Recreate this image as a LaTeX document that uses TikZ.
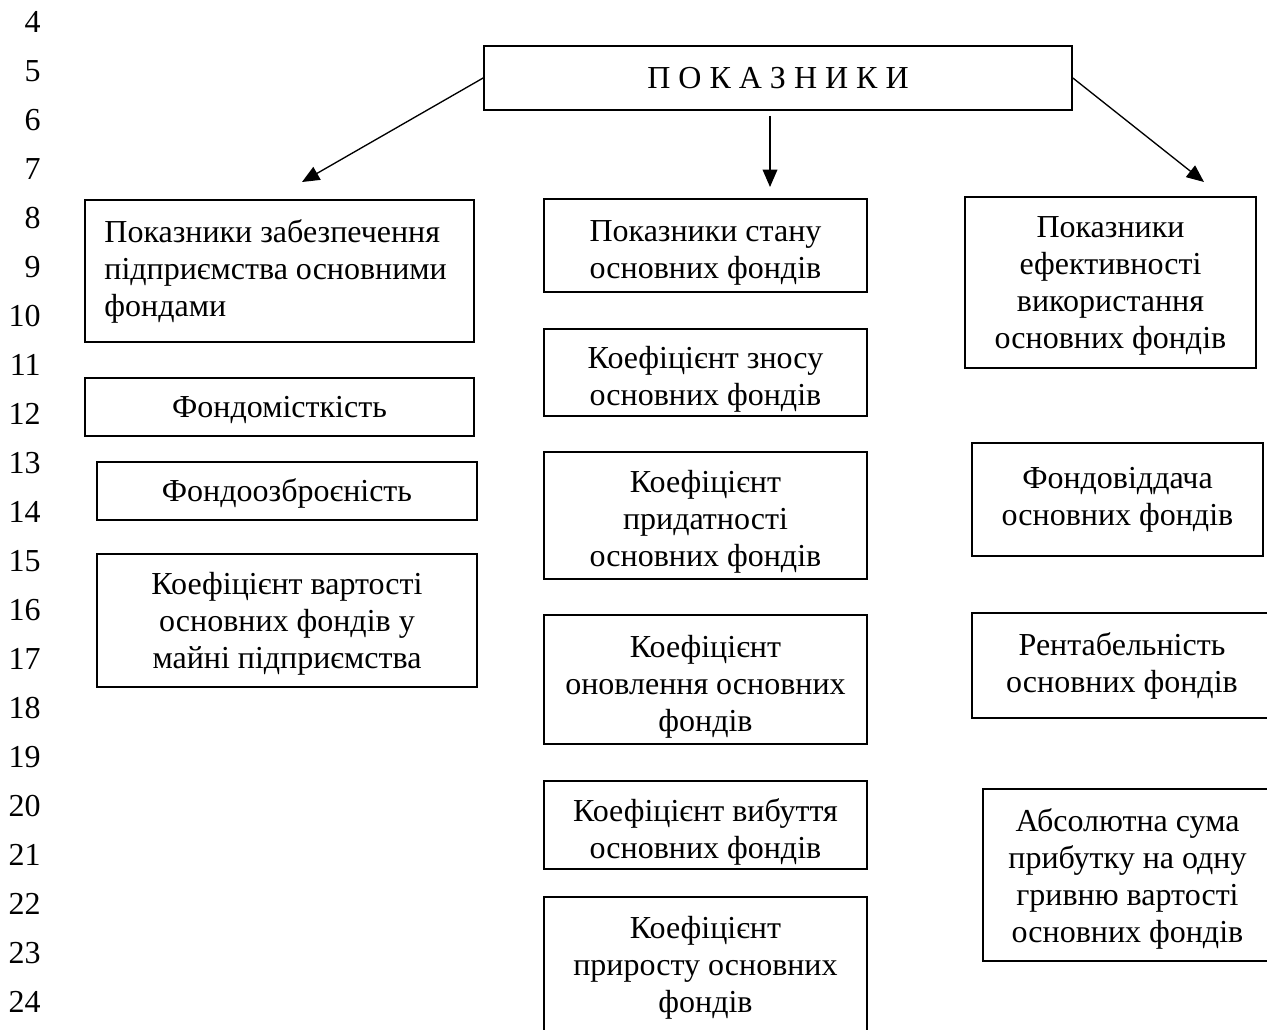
\documentclass[tikz,border=0pt]{standalone}
\usepackage{fontspec}
\setmainfont{Liberation Serif}
\usetikzlibrary{arrows.meta}
\begin{document}
\begin{tikzpicture}[x=0.75pt,y=-0.75pt,
  every node/.style={font=\fontsize{24pt}{27.75pt}\selectfont},
  box/.style={draw, line width=1.3pt, inner sep=0pt},
  txt/.style={inner sep=0pt, align=center},
  sz/.style 2 args={minimum width=#1*0.75pt, minimum height=#2*0.75pt},
  num/.style={anchor=east, inner sep=0pt},
  arr/.style={line width=1pt, -{Triangle[length=13pt,width=11pt]}}]
\useasboundingbox (0,0) rectangle (1267,1030);

% line numbers
\foreach \n in {4,...,24}
  \node[num] (n\n) at (41,{22+(\n-4)*49}) {\n};

% top
\node[box, sz={588}{64}] (top) at (778,78) {П О К А З Н И К И};

% left column
\node[box, sz={389}{142}] (l1) at (279.5,271) {};
\node[txt, align=left, anchor=west] (l1t) at ([xshift=15pt]l1.west) {Показники забезпечення\\підприємства основними\\фондами};
\node[box, sz={389}{58}] (l2) at (279.5,407) {};
\node[txt] (l2t) at ([yshift=-2pt]l2.center) {Фондомісткість};
\node[box, sz={380}{58}] (l3) at (287,491) {};
\node[txt] (l3t) at ([yshift=-1.5pt]l3.center) {Фондоозброєність};
\node[box, sz={380}{133}] (l4) at (287,620.5) {};
\node[txt] (l4t) at ([yshift=-2.25pt]l4.center) {Коефіцієнт вартості\\основних фондів у\\майні підприємства};

% middle column
\node[box, sz={323}{93}] (m1) at (705.5,245.5) {};
\node[txt] (m1t) at ([yshift=-5.5pt]m1.center) {Показники стану\\основних фондів};
\node[box, sz={323}{87}] (m2) at (705.5,372.5) {};
\node[txt] (m2t) at ([yshift=-5pt]m2.center) {Коефіцієнт зносу\\основних фондів};
\node[box, sz={323}{127}] (m3) at (705.5,515.5) {};
\node[txt] (m3t) at ([yshift=-5pt]m3.center) {Коефіцієнт\\придатності\\основних фондів};
\node[box, sz={323}{129}] (m4) at (705.5,679.5) {};
\node[txt] (m4t) at ([yshift=-5.5pt]m4.center) {Коефіцієнт\\оновлення основних\\фондів};
\node[box, sz={323}{88}] (m5) at (705.5,825) {};
\node[txt] (m5t) at ([yshift=-5.5pt]m5.center) {Коефіцієнт вибуття\\основних фондів};
\node[box, sz={323}{139}] (m6) at (705.5,966.5) {};
\node[txt] (m6t) at ([yshift=-1pt]m6.center) {Коефіцієнт\\приросту основних\\фондів};

% right column
\node[box, sz={291}{171}] (r1) at (1110.5,282.5) {};
\node[txt] (r1t) at ([yshift=-2.5pt]r1.center) {Показники\\ефективності\\використання\\основних фондів};
\node[box, sz={291}{113}] (r2) at (1117.5,499.5) {};
\node[txt] (r2t) at (r2.center) {Фондовіддача\\основних фондів};
\node[box, sz={300}{105}] (r3) at (1122,665.5) {};
\node[txt] (r3t) at ([yshift=-0.5pt]r3.center) {Рентабельність\\основних фондів};
\node[box, sz={289}{172}] (r4) at (1127.5,875) {};
\node[txt] (r4t) at ([yshift=-3pt]r4.center) {Абсолютна сума\\прибутку на одну\\гривню вартості\\основних фондів};

% arrows
\coordinate (tl) at (302,182);
\coordinate (tm) at (770,187);
\coordinate (tr) at (1204,182);
\draw[arr] (top.west) -- (tl);
\draw[arr] ([yshift=-3.75pt]top.south -| tm) -- (tm);
\draw[arr] (top.east) -- (tr);
\end{tikzpicture}
\end{document}
